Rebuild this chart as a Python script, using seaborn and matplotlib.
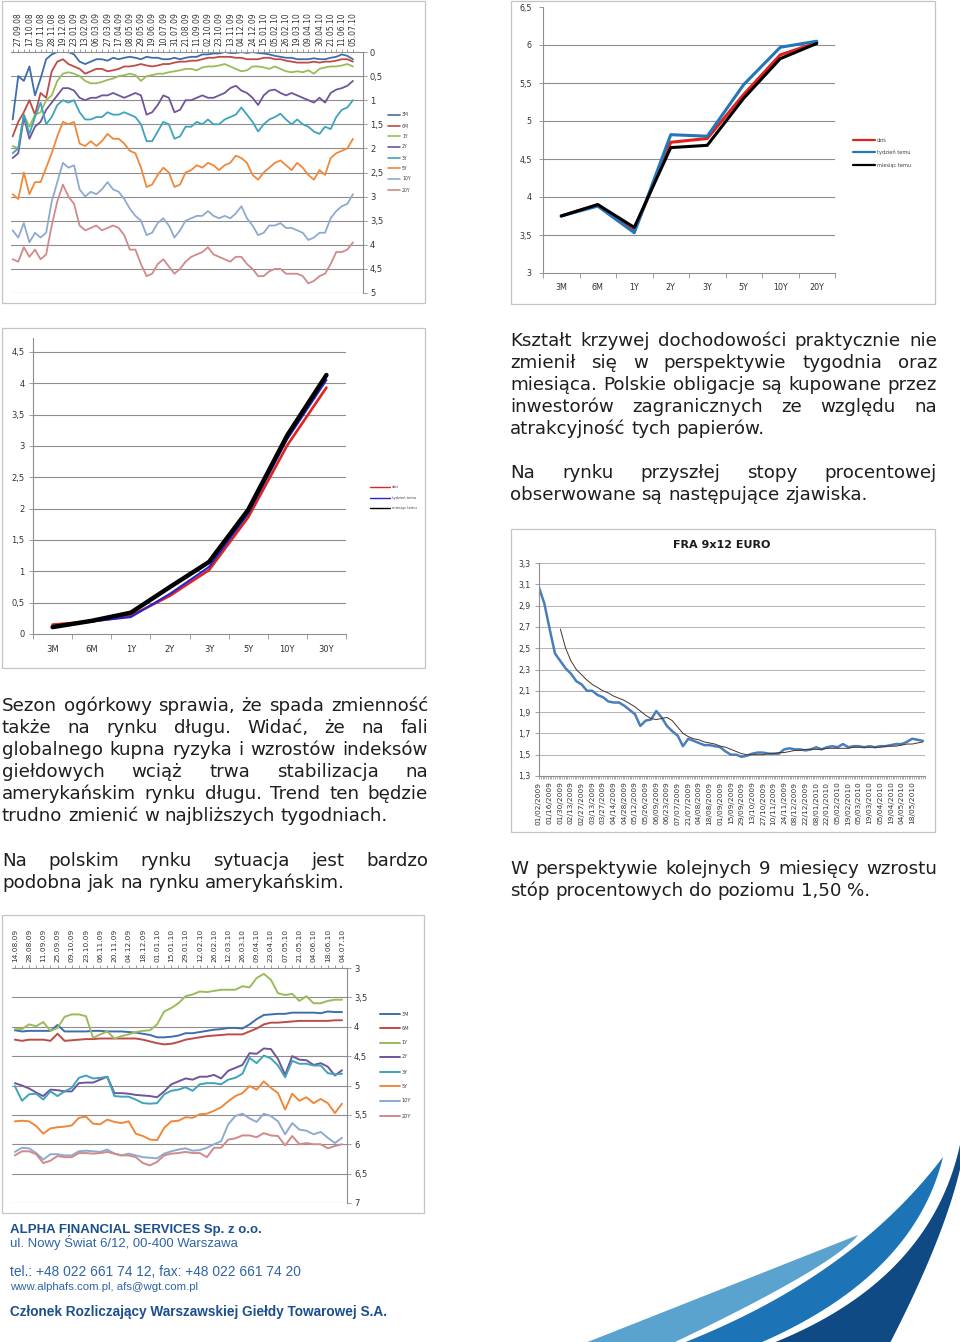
import numpy as np
import matplotlib
matplotlib.use("Agg")
import matplotlib.pyplot as plt
import seaborn as sns
from matplotlib import font_manager
from matplotlib.patches import Rectangle, Polygon
from matplotlib.lines import Line2D

sns.set_style("white")
plt.rcParams['font.family'] = ['DejaVu Sans']

W, H = 960, 1342

# ---------------- data ----------------
tenors = ["3M", "6M", "1Y", "2Y", "3Y", "5Y", "10Y", "20Y"]
tenor_colors = ["#3E6EAA", "#BE4B48", "#9BBB59", "#70559A",
                "#3FA3BC", "#F0883A", "#8FAAD0", "#D08A8A"]

# chart 1 - weekly yields (inverted axis)
c1_dates = ["27.09.08", "17.10.08", "07.11.08", "28.11.08", "19.12.08", "23.01.09",
            "13.02.09", "06.03.09", "27.03.09", "17.04.09", "08.05.09", "29.05.09",
            "19.06.09", "10.07.09", "31.07.09", "21.08.09", "11.09.09", "02.10.09",
            "23.10.09", "13.11.09", "04.12.09", "24.12.09", "15.01.10", "05.02.10",
            "26.02.10", "19.03.10", "09.04.10", "30.04.10", "21.05.10", "11.06.10",
            "05.07.10"]
c1_3m = [1.4, 0.5, 0.6, 0.3, 0.9, 0.55, 0.15, 0.05, 0.0, 0.0,
         0.0, 0.05, 0.2, 0.25, 0.2, 0.15, 0.15, 0.18, 0.12, 0.15,
         0.12, 0.1, 0.12, 0.15, 0.1, 0.12, 0.12, 0.15, 0.15, 0.12,
         0.15, 0.12, 0.1, 0.1, 0.05, 0.05, 0.03, 0.03, 0.0, 0.02,
         0.02, 0.0, 0.02, 0.0, 0.02, 0.03, 0.05, 0.08, 0.1, 0.12,
         0.12, 0.15, 0.15, 0.15, 0.13, 0.15, 0.15, 0.12, 0.1, 0.05,
         0.08, 0.15]
c1_6m = [1.75, 1.45, 1.25, 1.0, 1.3, 0.85, 0.95, 0.4, 0.2, 0.15,
         0.25, 0.3, 0.35, 0.45, 0.4, 0.35, 0.35, 0.4, 0.38, 0.35,
         0.3, 0.3, 0.28, 0.25, 0.28, 0.3, 0.28, 0.25, 0.25, 0.22,
         0.2, 0.2, 0.18, 0.18, 0.15, 0.12, 0.12, 0.1, 0.1, 0.1,
         0.12, 0.12, 0.15, 0.15, 0.15, 0.12, 0.12, 0.15, 0.15, 0.18,
         0.2, 0.22, 0.22, 0.22, 0.2, 0.22, 0.2, 0.2, 0.18, 0.15,
         0.15, 0.2]
c1_1y = [1.95, 2.0, 1.3, 1.55, 1.3, 1.25, 1.0, 0.9, 0.6, 0.45,
         0.42, 0.45, 0.5, 0.6, 0.65, 0.65, 0.62, 0.58, 0.55, 0.5,
         0.48, 0.45, 0.48, 0.6, 0.5, 0.48, 0.45, 0.45, 0.42, 0.4,
         0.38, 0.35, 0.35, 0.38, 0.32, 0.3, 0.3, 0.28, 0.25, 0.3,
         0.35, 0.4, 0.38, 0.3, 0.3, 0.32, 0.35, 0.3, 0.35, 0.4,
         0.42, 0.4, 0.42, 0.38, 0.45, 0.35, 0.32, 0.3, 0.3, 0.28,
         0.25, 0.3]
c1_2y = [2.2, 2.1, 1.35, 1.8, 1.55, 1.45, 1.2, 1.05, 0.9, 0.75,
         0.75, 0.8, 0.95, 1.0, 0.95, 0.95, 0.9, 0.9, 0.85, 0.9,
         0.95, 0.9, 0.85, 0.9, 1.3, 1.25, 1.1, 0.9, 0.95, 1.25,
         1.2, 1.0, 1.0, 0.95, 0.9, 0.95, 0.95, 0.9, 0.85, 0.75,
         0.7, 0.8, 0.85, 0.95, 1.1, 0.9, 0.8, 0.78, 0.85, 0.9,
         0.85, 0.9, 0.95, 1.0, 1.05, 0.95, 1.05, 0.85, 0.78, 0.75,
         0.7, 0.6]
c1_3y = [2.1, 2.0, 1.3, 1.7, 1.35, 1.05, 1.5, 1.35, 1.1, 1.0,
         1.05, 1.0, 1.25, 1.4, 1.4, 1.35, 1.35, 1.25, 1.3, 1.3,
         1.25, 1.3, 1.35, 1.5, 1.85, 1.85, 1.65, 1.45, 1.5, 1.8,
         1.75, 1.55, 1.55, 1.45, 1.5, 1.4, 1.5, 1.5, 1.4, 1.35,
         1.3, 1.15, 1.3, 1.45, 1.65, 1.5, 1.4, 1.35, 1.28, 1.4,
         1.5, 1.4, 1.5, 1.55, 1.65, 1.7, 1.55, 1.6, 1.35, 1.2,
         1.15, 1.0]
c1_5y = [2.95, 3.05, 2.5, 2.95, 2.7, 2.7, 2.4, 2.1, 1.75, 1.45,
         1.5, 1.45, 1.9, 1.95, 1.85, 1.95, 1.85, 1.7, 1.8, 1.8,
         1.9, 2.05, 2.1, 2.4, 2.8, 2.75, 2.55, 2.4, 2.5, 2.8,
         2.75, 2.5, 2.45, 2.35, 2.4, 2.3, 2.35, 2.45, 2.35, 2.3,
         2.15, 2.2, 2.3, 2.55, 2.65, 2.5, 2.4, 2.3, 2.25, 2.35,
         2.45, 2.3, 2.4, 2.55, 2.65, 2.45, 2.55, 2.2, 2.1, 2.05,
         2.0, 1.8]
c1_10y = [3.7, 3.85, 3.55, 3.95, 3.75, 3.85, 3.75, 3.1, 2.7, 2.3,
          2.4, 2.35, 2.85, 3.0, 2.9, 2.95, 2.85, 2.7, 2.85, 2.9,
          3.05, 3.25, 3.4, 3.5, 3.8, 3.75, 3.55, 3.45, 3.6, 3.85,
          3.7, 3.5, 3.45, 3.4, 3.4, 3.3, 3.4, 3.45, 3.4, 3.45,
          3.35, 3.2, 3.45, 3.6, 3.8, 3.75, 3.6, 3.6, 3.55, 3.65,
          3.65, 3.7, 3.75, 3.9, 3.85, 3.75, 3.75, 3.45, 3.3, 3.2,
          3.15, 2.95]
c1_20y = [4.3, 4.35, 4.05, 4.25, 4.1, 4.3, 4.2, 3.6, 3.1, 2.75,
          3.0, 3.15, 3.6, 3.7, 3.65, 3.6, 3.7, 3.65, 3.6, 3.65,
          3.8, 4.1, 4.1, 4.4, 4.65, 4.6, 4.4, 4.3, 4.45, 4.6,
          4.5, 4.35, 4.25, 4.2, 4.15, 4.05, 4.2, 4.25, 4.3, 4.35,
          4.25, 4.25, 4.4, 4.5, 4.65, 4.65, 4.55, 4.5, 4.5, 4.6,
          4.6, 4.6, 4.65, 4.8, 4.75, 4.65, 4.6, 4.4, 4.15, 4.15,
          4.1, 3.95]
c1_series = [c1_3m, c1_6m, c1_1y, c1_2y, c1_3y, c1_5y, c1_10y, c1_20y]

# chart 2 - curve today / week ago / month ago
c2_x = ["3M", "6M", "1Y", "2Y", "3Y", "5Y", "10Y", "20Y"]
c2_today = [3.75, 3.90, 3.55, 4.72, 4.77, 5.35, 5.87, 6.03]
c2_week = [3.75, 3.88, 3.53, 4.82, 4.80, 5.48, 5.97, 6.05]
c2_month = [3.75, 3.90, 3.60, 4.65, 4.68, 5.30, 5.82, 6.02]
curve_names = ["dziś", "tydzień temu", "miesiąc temu"]

# chart 3 - US curve
c3_x = ["3M", "6M", "1Y", "2Y", "3Y", "5Y", "10Y", "30Y"]
c3_today = [0.15, 0.20, 0.29, 0.61, 1.02, 1.86, 3.01, 3.93]
c3_week = [0.12, 0.20, 0.27, 0.64, 1.07, 1.92, 3.11, 4.05]
c3_month = [0.11, 0.21, 0.34, 0.75, 1.15, 1.98, 3.17, 4.13]

# chart 4 - FRA 9x12 EURO
fra_dates = ["01/02/2009", "01/16/2009", "01/30/2009", "02/13/2009", "02/27/2009",
             "03/13/2009", "03/27/2009", "04/14/2009", "04/28/2009", "05/12/2009",
             "05/26/2009", "06/09/2009", "06/23/2009", "07/07/2009", "21/07/2009",
             "04/08/2009", "18/08/2009", "01/09/2009", "15/09/2009", "29/09/2009",
             "13/10/2009", "27/10/2009", "10/11/2009", "24/11/2009", "08/12/2009",
             "22/12/2009", "08/01/2010", "22/01/2010", "05/02/2010", "19/02/2010",
             "05/03/2010", "19/03/2010", "05/04/2010", "19/04/2010", "04/05/2010",
             "18/05/2010"]
fra_rate = [3.07, 2.92, 2.68, 2.45, 2.38, 2.31, 2.26, 2.19, 2.16, 2.1,
            2.1, 2.06, 2.04, 2.0, 1.99, 1.99, 1.96, 1.92, 1.88, 1.77,
            1.82, 1.83, 1.91, 1.85, 1.77, 1.72, 1.68, 1.58, 1.65, 1.63,
            1.61, 1.59, 1.59, 1.58, 1.57, 1.53, 1.5, 1.5, 1.48, 1.49,
            1.51, 1.52, 1.52, 1.51, 1.51, 1.51, 1.55, 1.56, 1.55, 1.55,
            1.54, 1.55, 1.57, 1.55, 1.57, 1.58, 1.57, 1.6, 1.57, 1.58,
            1.58, 1.57, 1.58, 1.57, 1.58, 1.58, 1.59, 1.6, 1.6, 1.62,
            1.65, 1.64, 1.63]
fra_trend = [2.68, 2.5, 2.38, 2.3, 2.25, 2.2, 2.16, 2.13, 2.1, 2.08,
             2.05, 2.03, 2.01, 1.98, 1.95, 1.91, 1.87, 1.84, 1.83, 1.84,
             1.85, 1.82, 1.76, 1.7, 1.67, 1.65, 1.64, 1.62, 1.61, 1.6,
             1.58, 1.57, 1.55, 1.53, 1.51, 1.5, 1.5, 1.5, 1.5, 1.51,
             1.51, 1.52, 1.52, 1.53, 1.54, 1.54, 1.55, 1.55, 1.55, 1.55,
             1.56, 1.56, 1.56, 1.56, 1.56, 1.57, 1.57, 1.57, 1.57, 1.57,
             1.57, 1.58, 1.58, 1.58, 1.59, 1.6, 1.6, 1.61, 1.62]

# chart 5 - Polish curve, weekly (inverted axis)
c5_dates = ["14.08.09", "28.08.09", "11.09.09", "25.09.09", "09.10.09", "23.10.09",
            "06.11.09", "20.11.09", "04.12.09", "18.12.09", "01.01.10", "15.01.10",
            "29.01.10", "12.02.10", "26.02.10", "12.03.10", "26.03.10", "09.04.10",
            "23.04.10", "07.05.10", "21.05.10", "04.06.10", "18.06.10", "04.07.10"]
c5_3m = [4.06, 4.08, 4.07, 4.07, 4.07, 4.07, 3.97, 4.08, 4.08, 4.08,
         4.08, 4.07, 4.07, 4.08, 4.08, 4.08, 4.09, 4.1, 4.12, 4.14,
         4.18, 4.18, 4.17, 4.15, 4.11, 4.11, 4.09, 4.07, 4.05, 4.04,
         4.02, 4.02, 4.03, 3.96, 3.87, 3.8, 3.79, 3.78, 3.78, 3.76,
         3.76, 3.76, 3.76, 3.77, 3.74, 3.75, 3.75]
c5_6m = [4.22, 4.24, 4.22, 4.22, 4.22, 4.24, 4.12, 4.24, 4.23, 4.22,
         4.21, 4.21, 4.2, 4.2, 4.2, 4.2, 4.2, 4.2, 4.22, 4.25,
         4.28, 4.3, 4.29, 4.26, 4.22, 4.2, 4.18, 4.16, 4.15, 4.14,
         4.13, 4.13, 4.13, 4.08, 4.03, 3.96, 3.93, 3.93, 3.92, 3.91,
         3.9, 3.9, 3.9, 3.9, 3.9, 3.89, 3.89]
c5_1y = [4.04, 4.04, 3.96, 3.99, 3.92, 4.07, 4.02, 3.83, 3.79, 3.79,
         3.82, 4.19, 4.13, 4.08, 4.2, 4.16, 4.13, 4.09, 4.07, 4.06,
         3.96, 3.74, 3.68, 3.6, 3.48, 3.45, 3.4, 3.41, 3.39, 3.37,
         3.37, 3.37, 3.31, 3.33, 3.17, 3.1, 3.2, 3.43, 3.46, 3.44,
         3.56, 3.48, 3.6, 3.6, 3.56, 3.54, 3.54]
c5_2y = [4.96, 5.0, 5.05, 5.12, 5.18, 5.07, 5.08, 5.1, 5.1, 4.96,
         4.95, 4.95, 4.9, 4.85, 5.13, 5.13, 5.14, 5.16, 5.17, 5.18,
         5.2, 5.1, 4.98, 4.93, 4.88, 4.9, 4.85, 4.85, 4.82, 4.88,
         4.75, 4.7, 4.65, 4.45, 4.46, 4.37, 4.38, 4.55, 4.82, 4.5,
         4.56, 4.57, 4.65, 4.62, 4.68, 4.83, 4.74]
c5_3y = [5.01, 5.26, 5.15, 5.14, 5.24, 5.1, 5.18, 5.1, 5.04, 4.87,
         4.83, 4.88, 4.87, 4.85, 5.18, 5.19, 5.19, 5.24, 5.3, 5.31,
         5.3, 5.15, 5.09, 5.07, 5.03, 5.09, 4.98, 4.96, 4.96, 4.98,
         4.9, 4.87, 4.8, 4.53, 4.62, 4.49, 4.54, 4.66, 4.86, 4.58,
         4.63, 4.63, 4.66, 4.66, 4.79, 4.81, 4.8]
c5_5y = [5.61, 5.6, 5.61, 5.69, 5.82, 5.73, 5.71, 5.7, 5.68, 5.55,
         5.53, 5.65, 5.66, 5.58, 5.62, 5.64, 5.61, 5.82, 5.86, 5.92,
         5.93, 5.72, 5.61, 5.6, 5.54, 5.55, 5.49, 5.48, 5.43, 5.37,
         5.27, 5.18, 5.13, 5.01, 5.07, 4.93, 5.04, 5.13, 5.41, 5.14,
         5.26, 5.2, 5.3, 5.23, 5.3, 5.47, 5.31]
c5_10y = [6.13, 6.06, 6.07, 6.15, 6.26, 6.17, 6.17, 6.19, 6.19, 6.12,
          6.11, 6.12, 6.13, 6.09, 6.16, 6.19, 6.16, 6.19, 6.22, 6.23,
          6.24, 6.16, 6.12, 6.09, 6.07, 6.11, 6.1, 6.06, 6.0, 5.95,
          5.66, 5.52, 5.48, 5.56, 5.62, 5.48, 5.52, 5.61, 5.83, 5.64,
          5.75, 5.77, 5.83, 5.79, 5.89, 5.98, 5.89]
c5_20y = [6.19, 6.12, 6.12, 6.17, 6.32, 6.28, 6.2, 6.22, 6.22, 6.15,
          6.15, 6.16, 6.15, 6.13, 6.16, 6.19, 6.19, 6.22, 6.32, 6.36,
          6.3, 6.19, 6.16, 6.15, 6.13, 6.15, 6.15, 6.22, 6.06, 6.06,
          5.92, 5.9, 5.85, 5.85, 5.88, 5.81, 5.85, 5.86, 6.02, 5.86,
          6.0, 5.98, 6.0, 6.0, 6.07, 6.03, 6.0]
c5_series = [c5_3m, c5_6m, c5_1y, c5_2y, c5_3y, c5_5y, c5_10y, c5_20y]

# text
para_r1 = ["Kształt krzywej dochodowości praktycznie nie",
           "zmienił się w perspektywie tygodnia oraz",
           "miesiąca. Polskie obligacje są kupowane przez",
           "inwestorów zagranicznych ze względu na",
           "atrakcyjność tych papierów."]
para_r2 = ["Na rynku przyszłej stopy procentowej",
           "obserwowane są następujące zjawiska."]
para_l1 = ["Sezon ogórkowy sprawia, że spada zmienność",
           "także na rynku długu. Widać, że na fali",
           "globalnego kupna ryzyka i wzrostów indeksów",
           "giełdowych wciąż trwa stabilizacja na",
           "amerykańskim rynku długu. Trend ten będzie",
           "trudno zmienić w najbliższych tygodniach."]
para_l2 = ["Na polskim rynku sytuacja jest bardzo",
           "podobna jak na rynku amerykańskim."]
para_r3 = ["W perspektywie kolejnych 9 miesięcy wzrostu",
           "stóp procentowych do poziomu 1,50 %."]
footer = ["ALPHA FINANCIAL SERVICES Sp. z o.o.",
          "ul. Nowy Świat 6/12, 00-400 Warszawa",
          "tel.: +48 022 661 74 12, fax: +48 022 661 74 20",
          "www.alphafs.com.pl, afs@wgt.com.pl",
          "Członek Rozliczający Warszawskiej Giełdy Towarowej S.A."]

# ---------------- helpers ----------------
GRID = "#8e8e8e"
fig = plt.figure(figsize=(W / 100, H / 100), dpi=100)
fig.patch.set_facecolor("white")
R = fig.canvas.get_renderer()


def fx(x):
    return x / W


def fy(y):
    return 1 - y / H


def ax_px(x0, y0, x1, y1):
    return fig.add_axes([fx(x0), fy(y1), (x1 - x0) / W, (y1 - y0) / H])


def frame(x0, y0, x1, y1):
    fig.add_artist(Rectangle((fx(x0), fy(y1)), (x1 - x0) / W, (y1 - y0) / H,
                             transform=fig.transFigure, fill=False,
                             ec="#c4c4c4", lw=0.9))


def comma(v):
    return f"{v:g}".replace(".", ",")


def legend_px(names, colors, x0, x1, ys, size, lw):
    for n, c, y in zip(names, colors, ys):
        fig.add_artist(Line2D([fx(x0), fx(x1)], [fy(y), fy(y)],
                              transform=fig.transFigure, color=c, lw=lw))
        fig.text(fx(x1 + 2), fy(y), n, size=size, va="center", color="#404040")


def style(ax):
    for s in ax.spines.values():
        s.set_color(GRID)
        s.set_linewidth(0.8)
    ax.set_xlabel("")
    ax.set_ylabel("")
    ax.set_facecolor("none")


def text_w(s, size, **kw):
    t = fig.text(0, 0, s, size=size, **kw)
    w = t.get_window_extent(R).width
    t.remove()
    return w


# ---------------- chart 1 ----------------
frame(2, 1, 425, 303)
ax = ax_px(11, 52, 363, 293)
xs = np.arange(len(c1_3m))
for vals, col in zip(c1_series, tenor_colors):
    sns.lineplot(x=xs, y=vals, ax=ax, color=col, lw=1.3, legend=False)
for v in np.arange(0.5, 5.01, 0.5):
    ax.axhline(v, color=GRID, lw=0.8, zorder=0)
ax.set_ylim(5, 0)
ax.set_xlim(-0.3, 62.8)
ax.xaxis.tick_top()
ax.yaxis.tick_right()
ax.set_xticks(np.arange(1, 62, 2))
ax.set_xticklabels(c1_dates, rotation=90, fontsize=5.5, color="#333333")
ax.set_xticks(xs, minor=True)
ax.set_yticks(np.arange(0, 5.01, 0.5))
ax.set_yticklabels([comma(v) for v in np.arange(0, 5.01, 0.5)], fontsize=6, color="#333333")
ax.tick_params(axis="x", which="both", length=2.5, width=0.6, color=GRID, pad=1.5)
ax.tick_params(axis="y", length=3, width=0.6, color=GRID, pad=2)
style(ax)
ax.spines[["left", "bottom"]].set_visible(False)
legend_px(tenors, tenor_colors, 388, 400, [115, 126, 136, 147, 158, 168, 179, 190], 3.3, 1.2)

# ---------------- chart 2 ----------------
frame(511, 1, 935, 304)
ax = ax_px(543, 7, 835, 273)
cx = np.arange(len(c2_x))
sns.lineplot(x=cx, y=c2_today, ax=ax, color="#E3201B", lw=2.2, legend=False)
sns.lineplot(x=cx, y=c2_week, ax=ax, color="#2277BB", lw=2.2, legend=False)
sns.lineplot(x=cx, y=c2_month, ax=ax, color="black", lw=2.2, legend=False)
for v in np.arange(3.5, 6.01, 0.5):
    ax.axhline(v, color=GRID, lw=0.8, zorder=0)
ax.set_xlim(-0.5, 7.5)
ax.set_ylim(3, 6.5)
ax.set_xticks(cx)
ax.set_xticklabels(c2_x, fontsize=5.8, color="#333333")
ax.set_xticks(np.arange(-0.5, 8), minor=True)
ax.set_yticks(np.arange(3, 6.51, 0.5))
ax.set_yticklabels([comma(v) for v in np.arange(3, 6.51, 0.5)], fontsize=5.8, color="#333333")
ax.tick_params(axis="x", which="major", length=0, pad=7)
ax.tick_params(axis="x", which="minor", bottom=True, length=3.5, width=0.6, color=GRID)
ax.tick_params(axis="y", left=True, length=3, width=0.6, color=GRID, pad=5)
style(ax)
ax.spines[["top", "right"]].set_visible(False)
legend_px(curve_names, ["#E3201B", "#2277BB", "black"], 853, 875, [140, 152, 165], 3.6, 1.6)

# ---------------- chart 3 ----------------
frame(2, 328, 425, 668)
ax = ax_px(33, 338, 346, 634)
cx = np.arange(len(c3_x))
sns.lineplot(x=cx, y=c3_today, ax=ax, color="#E0241F", lw=1.9, legend=False)
sns.lineplot(x=cx, y=c3_week, ax=ax, color="#2424D0", lw=1.5, legend=False)
sns.lineplot(x=cx, y=c3_month, ax=ax, color="black", lw=3.2, legend=False)
for v in np.arange(0.5, 4.51, 0.5):
    ax.axhline(v, color=GRID, lw=0.8, zorder=0)
ax.set_xlim(-0.5, 7.5)
ax.set_ylim(0, 4.72)
ax.set_xticks(cx)
ax.set_xticklabels(c3_x, fontsize=6, color="#333333")
ax.set_xticks(np.arange(-0.5, 8), minor=True)
ax.set_yticks(np.arange(0, 4.51, 0.5))
ax.set_yticklabels([comma(v) for v in np.arange(0, 4.51, 0.5)], fontsize=6, color="#333333")
ax.tick_params(axis="x", which="major", length=0, pad=8)
ax.tick_params(axis="x", which="minor", bottom=True, length=3.5, width=0.6, color=GRID)
ax.tick_params(axis="y", left=True, length=3, width=0.6, color=GRID, pad=3)
style(ax)
ax.spines[["top", "right"]].set_visible(False)
legend_px(curve_names, ["#E0241F", "#2424D0", "black"], 370, 390, [487, 498, 508], 2.6, 1.0)

# ---------------- chart 4 (FRA) ----------------
frame(511, 529, 935, 832)
ax = ax_px(539, 563, 925, 776)
jx = np.arange(len(fra_rate))
tx = np.arange(len(fra_rate) - len(fra_trend), len(fra_rate))
sns.lineplot(x=jx, y=fra_rate, ax=ax, color="#4A7EBB", lw=1.8, legend=False)
sns.lineplot(x=tx, y=fra_trend, ax=ax, color="#4a3328", lw=0.7, legend=False)
for v in np.arange(1.5, 3.31, 0.2):
    ax.axhline(v, color="#b3b3b3", lw=0.7, zorder=0)
ax.set_xlim(0, 72.4)
ax.set_ylim(1.3, 3.3)
ax.set_xticks(np.arange(0, 71, 2))
ax.set_xticklabels(fra_dates, rotation=90, fontsize=5.3, color="#333333")
ax.set_xticks(np.arange(0, 72.4, 1 / 3), minor=True)
ax.set_yticks(np.arange(1.3, 3.31, 0.2))
ax.set_yticklabels([comma(round(v, 1)) for v in np.arange(1.3, 3.31, 0.2)], fontsize=5.6, color="#333333")
ax.tick_params(axis="x", which="both", bottom=True, length=2.5, width=0.5, color=GRID, pad=1.5)
ax.tick_params(axis="y", left=True, length=3, width=0.6, color=GRID, pad=3)
style(ax)
ax.spines[["top", "right"]].set_visible(False)
fra_title = "FRA 9x12 EURO"
fig.text(fx(722), fy(545), fra_title, ha="center", va="center", weight="bold",
         size=10 * 98 / text_w(fra_title, 10, weight="bold"), color="#1a1a1a")

# ---------------- chart 5 ----------------
frame(2, 915, 424, 1213)
ax = ax_px(12, 968, 347, 1203)
ks = np.arange(len(c5_3m))
for vals, col in zip(c5_series, tenor_colors):
    sns.lineplot(x=ks, y=vals, ax=ax, color=col, lw=1.4, legend=False)
for v in np.arange(3.5, 7.01, 0.5):
    ax.axhline(v, color=GRID, lw=0.8, zorder=0)
ax.set_ylim(7, 3)
ax.set_xlim(-0.4, 46.7)
ax.xaxis.tick_top()
ax.yaxis.tick_right()
ax.set_xticks(np.arange(0, 47, 2))
ax.set_xticklabels(c5_dates, rotation=90, fontsize=5.3, color="#333333")
ax.set_xticks(ks, minor=True)
ax.set_yticks(np.arange(3, 7.01, 0.5))
ax.set_yticklabels([comma(v) for v in np.arange(3, 7.01, 0.5)], fontsize=6, color="#333333")
ax.tick_params(axis="x", which="both", length=2.5, width=0.6, color=GRID, pad=1.5)
ax.tick_params(axis="y", length=3, width=0.6, color=GRID, pad=2)
style(ax)
ax.spines[["left", "bottom"]].set_visible(False)
legend_px(tenors, tenor_colors, 380, 400,
          [1014, 1028, 1043, 1057, 1072, 1086, 1101, 1116], 3.6, 1.4)

# ---------------- justified text ----------------
last_lines = [(para_r1[-1], 256), (para_r2[-1], 358), (para_l1[-1], 384),
              (para_l2[-1], 345), (para_r3[-1], 363)]
FS = 10 * np.mean([t / text_w(s, 10) for s, t in last_lines])
SPACE = text_w("a a", FS) - text_w("aa", FS)


def paragraph(lines, x0, x1, base, dy=22, color="#1e1e1e"):
    for i, line in enumerate(lines):
        words = line.split()
        widths = [text_w(w, FS) for w in words]
        last = i == len(lines) - 1
        gap = SPACE if last else (x1 - x0 - sum(widths)) / (len(words) - 1)
        x = x0
        for w, wd in zip(words, widths):
            fig.text(fx(x), fy(base + i * dy), w, size=FS, color=color, va="baseline")
            x += wd + gap


paragraph(para_r1, 510, 937, 346)
paragraph(para_r2, 510, 937, 478)
paragraph(para_l1, 2, 428, 711)
paragraph(para_l2, 2, 428, 866)
paragraph(para_r3, 510, 937, 874)

# ---------------- footer ----------------
names = {f.name for f in font_manager.fontManager.ttflist}
FOOT = "Liberation Sans Narrow" if "Liberation Sans Narrow" in names else "Liberation Sans"
foot_spec = [(footer[0], 1233, 252, "bold", "#1B4F8F"),
             (footer[1], 1247, 228, "normal", "#2F64A6"),
             (footer[2], 1276, 290, "normal", "#2F64A6"),
             (footer[3], 1290, 188, "normal", "#2F64A6"),
             (footer[4], 1316, 378, "bold", "#1B4F8F")]
for s, base, tw_, wt, col in foot_spec:
    size = 10 * tw_ / text_w(s, 10, family=FOOT, weight=wt)
    fig.text(fx(10), fy(base), s, size=size, family=FOOT, weight=wt,
             color=col, va="baseline")


# ---------------- swoosh ----------------
def qbez(p0, c, p1, n=50):
    t = np.linspace(0, 1, n)[:, None]
    return (1 - t) ** 2 * np.array(p0) + 2 * (1 - t) * t * np.array(c) + t ** 2 * np.array(p1)


def band(upper, lower, color, extra=None):
    up = qbez(*upper)
    lo = qbez(*lower)[::-1]
    pts = [up]
    if extra is not None:
        pts.append(np.array(extra))
    pts.append(lo)
    pts = np.vstack(pts)
    pts = np.column_stack([pts[:, 0] / W, 1 - pts[:, 1] / H])
    fig.add_artist(Polygon(pts, closed=True, transform=fig.transFigure,
                           fc=color, ec="none"))


band(((585, 1343), (737, 1283), (858, 1235)),
     ((673, 1343), (834, 1266), (858, 1235)), "#5AA3CF")
band(((683, 1343), (853, 1276), (943, 1157)),
     ((760, 1343), (914, 1276), (943, 1157)), "#1C74B6")
band(((773, 1343), (933, 1279), (961, 1140)),
     ((890, 1343), (945, 1236), (961, 1165)), "#0F4A84")

fig.savefig("out.png", dpi=100)
